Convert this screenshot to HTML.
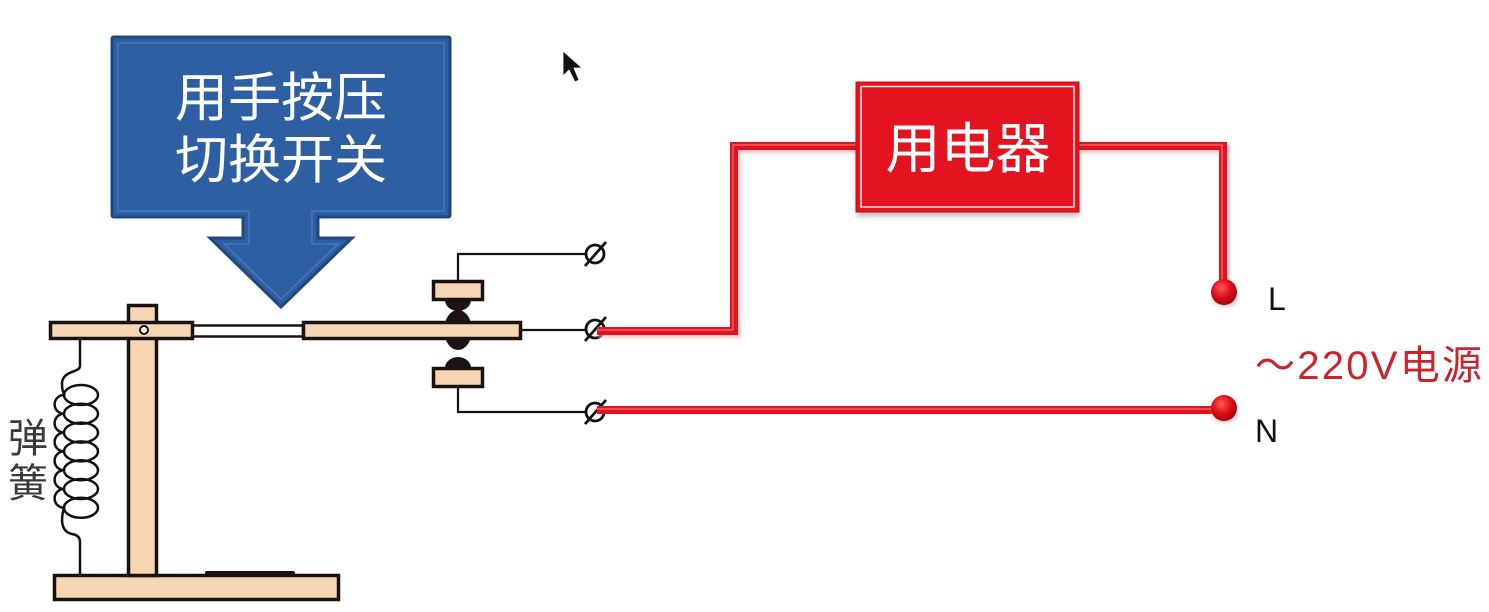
<!DOCTYPE html>
<html>
<head>
<meta charset="utf-8">
<style>
  html,body{margin:0;padding:0;background:#fff;}
  svg{display:block;}
</style>
</head>
<body>
<svg width="1489" height="612" viewBox="0 0 1489 612" xmlns="http://www.w3.org/2000/svg">
  <defs>
    <radialGradient id="dot" cx="0.4" cy="0.35" r="0.7">
      <stop offset="0" stop-color="#ff5a5a"/>
      <stop offset="0.5" stop-color="#e0101a"/>
      <stop offset="1" stop-color="#a00008"/>
    </radialGradient>
    <filter id="blur" x="-20%" y="-20%" width="140%" height="160%">
      <feGaussianBlur stdDeviation="3"/>
    </filter>
    <filter id="blur2" x="-20%" y="-50%" width="140%" height="200%">
      <feGaussianBlur stdDeviation="1.5"/>
    </filter>
  </defs>
  <rect width="1489" height="612" fill="#fff"/>

  <!-- Blue callout -->
  <path d="M112,39 Q112,37 114,37 H448 Q450,37 450,39 V215 Q450,217 448,217 H318 V238 H352 L281,307 L210,238 H243 V217 H114 Q112,217 112,215 Z"
        fill="#2f5fa3" stroke="#21477f" stroke-width="3"/>
  <path d="M118,43 H444 V211 H312 V244 H338 L281,299 L224,244 H249 V211 H118 Z"
        fill="none" stroke="#4d7cbd" stroke-width="1.5" opacity="0.8"/>
  <text x="281" y="116" text-anchor="middle" font-family="'Liberation Sans','Noto Sans CJK SC',sans-serif" font-size="53" fill="#fff">用手按压</text>
  <text x="281" y="178" text-anchor="middle" font-family="'Liberation Sans','Noto Sans CJK SC',sans-serif" font-size="53" fill="#fff">切换开关</text>

  <!-- Cursor -->
  <path d="M563,51 L563,76 L569,70 L575,82 L579,80 L574,68 L582,68 Z" fill="#111" stroke="#fff" stroke-width="0.8"/>

  <!-- Spring -->
  <g fill="none" stroke="#111" stroke-width="2.5">
    <path d="M80,339 V366 C80,373 62,370 62,384 Q62,392 65,395"/>
    <ellipse cx="81" cy="395" rx="17" ry="10"/>
    <ellipse cx="81" cy="413.8" rx="17" ry="10"/>
    <ellipse cx="81" cy="432.6" rx="17" ry="10"/>
    <ellipse cx="81" cy="451.4" rx="17" ry="10"/>
    <ellipse cx="81" cy="470.2" rx="17" ry="10"/>
    <ellipse cx="81" cy="489" rx="17" ry="10"/>
    <ellipse cx="81" cy="507.8" rx="17" ry="10"/>
    <path d="M64,395 A9.4 9.4 0 0 0 64,413.8 A9.4 9.4 0 0 0 64,432.6 A9.4 9.4 0 0 0 64,451.4 A9.4 9.4 0 0 0 64,470.2 A9.4 9.4 0 0 0 64,489 A9.4 9.4 0 0 0 64,507.8"/>
    <path d="M64,507.8 C60,522 62,532 72,534 C78,535 80,538 80,542 V575"/>
  </g>
  <text x="8" y="452" font-family="'Liberation Sans','Noto Sans CJK SC',sans-serif" font-size="40" fill="#3a3a3a">弹</text>
  <text x="8" y="497" font-family="'Liberation Sans','Noto Sans CJK SC',sans-serif" font-size="40" fill="#3a3a3a">簧</text>

  <!-- Base -->
  <rect x="205" y="571" width="90" height="6" rx="2" fill="#1a1210"/>
  <rect x="54.5" y="575.5" width="284" height="24" fill="#f6d6b2" stroke="#1a1210" stroke-width="3.5"/>
  <!-- Post -->
  <rect x="128.5" y="305.5" width="28" height="270" fill="#f6d6b2" stroke="#1a1210" stroke-width="3.5"/>
  <!-- Left lever -->
  <rect x="50.5" y="322.5" width="142" height="16" fill="#f6d6b2" stroke="#1a1210" stroke-width="3.5"/>
  <circle cx="144" cy="330" r="4" fill="#fff" stroke="#1a1210" stroke-width="2"/>
  <!-- thin rod -->
  <rect x="193" y="325.5" width="110" height="11" fill="#fff" stroke="#1a1210" stroke-width="2.5"/>

  <!-- Contacts -->
  <ellipse cx="458" cy="330" rx="14" ry="20" fill="#1c1412"/>
  <ellipse cx="458" cy="300" rx="13" ry="11" fill="#1c1412"/>
  <ellipse cx="458" cy="368" rx="13" ry="11" fill="#1c1412"/>
  <!-- Right lever -->
  <rect x="303.5" y="322.5" width="217" height="16" fill="#f6d6b2" stroke="#1a1210" stroke-width="3.5"/>
  <!-- Fixed blocks -->
  <rect x="433.5" y="281.5" width="49" height="18" fill="#f6d6b2" stroke="#1a1210" stroke-width="3.5"/>
  <rect x="433.5" y="368.5" width="49" height="18" fill="#f6d6b2" stroke="#1a1210" stroke-width="3.5"/>

  <!-- Black wires -->
  <g fill="none" stroke="#111" stroke-width="2.2">
    <path d="M458,281 V254 H586"/>
    <path d="M521,330 H586"/>
    <path d="M458,387 V412 H586"/>
  </g>
  <!-- Terminals -->
  <g fill="none" stroke="#111" stroke-width="2.8">
    <circle cx="595" cy="254" r="9"/>
    <line x1="585" y1="266" x2="606" y2="242"/>
    <circle cx="595" cy="329" r="9"/>
    <line x1="585" y1="341" x2="606" y2="317"/>
    <circle cx="595" cy="412" r="9"/>
    <line x1="585" y1="424" x2="606" y2="400"/>
  </g>

  <!-- Red box shadow -->
  <rect x="857" y="88" width="222" height="128" fill="#999" filter="url(#blur)" opacity="0.7"/>

  <!-- Red wires -->
  <g fill="none" stroke-linejoin="miter">
    <path d="M598,334 H737 V149 H857" stroke="#e8b0b0" stroke-width="8" filter="url(#blur2)" opacity="0.7"/>
    <path d="M1079,149 H1226 V292" stroke="#e8b0b0" stroke-width="8" filter="url(#blur2)" opacity="0.7"/>
    <path d="M598,413 H1222" stroke="#e8b0b0" stroke-width="8" filter="url(#blur2)" opacity="0.7"/>
    <path d="M597,331 H734 V146 H857" stroke="#e3121e" stroke-width="8"/>
    <path d="M1079,146 H1223 V292" stroke="#e3121e" stroke-width="8"/>
    <path d="M597,410 H1222" stroke="#e3121e" stroke-width="8"/>
    <path d="M597,330 H733 V145 H857" stroke="#f78a8a" stroke-width="1.2" opacity="0.8"/>
    <path d="M1079,145 H1222 V285" stroke="#f78a8a" stroke-width="1.2" opacity="0.8"/>
    <path d="M597,409 H1212" stroke="#f78a8a" stroke-width="1.2" opacity="0.8"/>
  </g>

  <!-- Red box -->
  <rect x="856" y="82" width="223" height="130" fill="#e3141f" stroke="#c20c16" stroke-width="1"/>
  <rect x="861" y="86.5" width="213" height="120.5" fill="none" stroke="#fff" stroke-width="1.5" opacity="0.9"/>
  <text x="968" y="168" text-anchor="middle" font-family="'Liberation Sans','Noto Sans CJK SC',sans-serif" font-size="55" fill="#fff">用电器</text>

  <!-- Dots -->
  <ellipse cx="1225" cy="298" rx="13" ry="9" fill="#bbb" filter="url(#blur2)" opacity="0.7"/>
  <circle cx="1224" cy="292" r="13" fill="url(#dot)"/>
  <ellipse cx="1225" cy="414" rx="13" ry="9" fill="#bbb" filter="url(#blur2)" opacity="0.7"/>
  <circle cx="1224" cy="408" r="13" fill="url(#dot)"/>

  <!-- Labels -->
  <text x="1268" y="310" font-family="'Liberation Sans',sans-serif" font-size="32" fill="#111">L</text>
  <text x="1255" y="442" font-family="'Liberation Sans',sans-serif" font-size="32" fill="#111">N</text>
  <text x="1255" y="379" font-family="'Liberation Sans','Noto Sans CJK SC',sans-serif" font-size="40" fill="#c8262e" textLength="227" lengthAdjust="spacing">～220V电源</text>
</svg>
</body>
</html>
